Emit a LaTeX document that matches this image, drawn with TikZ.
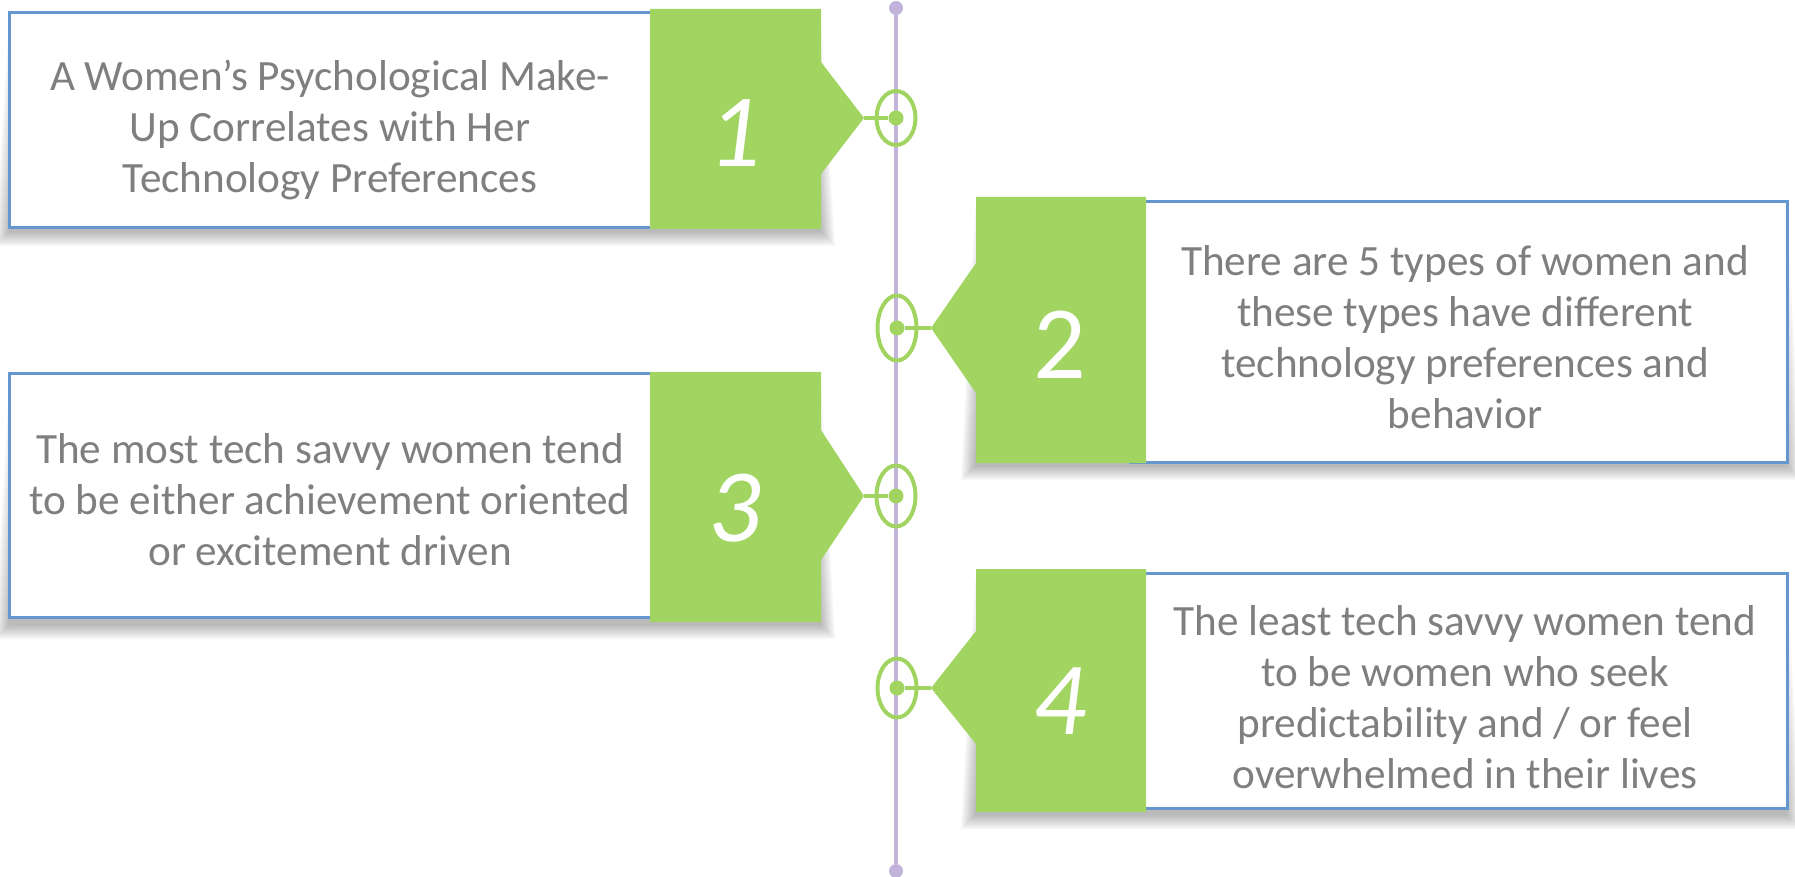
\documentclass[tikz,border=0pt]{standalone}
\usepackage{fontspec}
\setmainfont{Carlito}
\usetikzlibrary{shapes.geometric}

\definecolor{tagGreen}{HTML}{A2D462}
\definecolor{frameBlue}{HTML}{6497CD}
\definecolor{axisPurple}{HTML}{C2B3DB}
\definecolor{bodyGray}{HTML}{7F7F7F}

\tikzset{
  framebox/.style={draw=frameBlue, line width=1.5pt, fill=white, inner sep=0pt},
  tagfill/.style={fill=tagGreen, draw=none},
  bodytext/.style={text=bodyGray, align=center, inner sep=0pt,
    font=\fontsize{21.6pt}{25.5pt}\selectfont},
  numtext/.style={text=white, inner sep=0pt,
    font=\fontsize{52pt}{52pt}\selectfont\itshape},
  ring/.style={ellipse, draw=tagGreen, line width=2pt, inner sep=0pt,
    minimum width=19.5pt},
  hub/.style={circle, fill=tagGreen, inner sep=0pt, minimum size=7.5pt},
  link/.style={draw=tagGreen, line width=2pt},
  axisline/.style={draw=axisPurple, line width=2pt},
  axisend/.style={circle, fill=axisPurple, inner sep=0pt, minimum size=7pt},
}

% soft shadow under a card: trapezoid drawn in several faint layers
\newcommand{\cardshade}[4]{%
  \foreach \d in {0,1.5,...,13.5}{%
    \fill[black, opacity=0.03]
      (#1+\d, #2+10+\d) -- (#3-\d, #2+10+\d) --
      (#3+14-\d, #4+17-\d) -- (#1-14+\d, #4+17-\d) -- cycle;
  }%
}

\begin{document}
\begin{tikzpicture}[x=0.5pt, y=-0.5pt]
\useasboundingbox (0,0) rectangle (1795,877);

% shadows
\cardshade{9}{9}{821}{229}
\cardshade{975}{197}{1787}{463}
\cardshade{9}{372}{821}{622}
\cardshade{975}{569}{1787}{812}

% white cards with blue frame
\node[framebox, minimum width=325.5pt, minimum height=107.5pt] (b1) at (334.5,120.5) {};
\node[framebox, minimum width=328.5pt, minimum height=130pt]   (b2) at (1458.5,332) {};
\node[framebox, minimum width=325.5pt, minimum height=121.5pt] (b3) at (334.5,495.5) {};
\node[framebox, minimum width=328.5pt, minimum height=117.5pt] (b4) at (1458.5,690.5) {};

% green number tags with pointers
\fill[tagfill] (650,9) -- (821,9) -- (821,62) -- (864,118) -- (821,174) -- (821,229) -- (650,229) -- cycle;
\fill[tagfill] (1146,197) -- (976,197) -- (976,263) -- (931,328) -- (976,393) -- (976,463) -- (1146,463) -- cycle;
\fill[tagfill] (650,372) -- (821,372) -- (821,430) -- (864,496) -- (821,560) -- (821,622) -- (650,622) -- cycle;
\fill[tagfill] (1146,569) -- (976,569) -- (976,631) -- (931,688) -- (976,744) -- (976,812) -- (1146,812) -- cycle;

\coordinate (p1) at (864,118);
\coordinate (p2) at (931,328);
\coordinate (p3) at (864,496);
\coordinate (p4) at (931,688);

% card texts
\node[bodytext] (t1) at (330,130) {A Women’s Psychological Make-\\Up Correlates with Her\\Technology Preferences};
\node[bodytext] (t2) at (1465,337) {There are 5 types of women and\\these types have different\\technology preferences and\\behavior};
\node[bodytext] (t3) at (330,500) {The most tech savvy women tend\\to be either achievement oriented\\or excitement driven};
\node[bodytext] (t4) at (1465,697) {The least tech savvy women tend\\to be women who seek\\predictability and / or feel\\overwhelmed in their lives};

% numbers
\node[numtext] (n1) at (735,133) {1};
\node[numtext, font=\fontsize{52pt}{52pt}\selectfont] (n2) at (1060,345) {2};
\node[numtext] (n3) at (735,508) {3};
\node[numtext] (n4) at (1060,701) {4};

% timeline
\node[axisend] (top) at (896,8) {};
\node[axisend] (bot) at (896,871) {};
\draw[axisline] (top) -- (bot);

% markers on the timeline
\node[ring, minimum height=27pt]   (e1) at (896,118) {};
\node[ring, minimum height=32.5pt] (e2) at (897,328) {};
\node[ring, minimum height=30.5pt] (e3) at (896,496) {};
\node[ring, minimum height=29.5pt] (e4) at (897,688) {};

\node[hub] (d1) at (896,118) {};
\node[hub] (d2) at (897,328) {};
\node[hub] (d3) at (896,496) {};
\node[hub] (d4) at (897,688) {};

\draw[link] (p1) -- (d1);
\draw[link] (p2) -- (d2);
\draw[link] (p3) -- (d3);
\draw[link] (p4) -- (d4);
\end{tikzpicture}
\end{document}
